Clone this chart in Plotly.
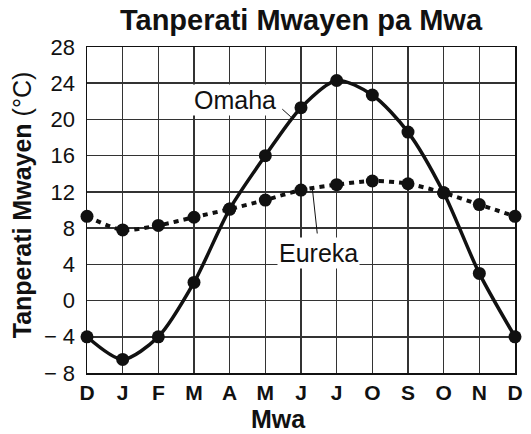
import plotly.graph_objects as go

# ---- data ----
months = ["D", "J", "F", "M", "A", "M", "J", "J", "O", "S", "O", "N", "D"]
omaha = [-4.0, -6.5, -4.0, 2.0, 10.1, 16.0, 21.3, 24.3, 22.7, 18.6, 11.9, 3.0, -4.0]
eureka = [9.3, 7.8, 8.3, 9.2, 10.1, 11.1, 12.2, 12.8, 13.2, 12.9, 11.9, 10.6, 9.3]
y_tick_values = [-8, -4, 0, 4, 8, 12, 16, 20, 24, 28]
y_tick_labels = ["\u2212 8", "\u2212 4", "0", "4", "8", "12", "16", "20", "24", "28"]

x_idx = list(range(len(months)))
FONT = "Liberation Sans, Arial, Helvetica, sans-serif"

fig = go.Figure()
fig.add_trace(go.Scatter(
    x=x_idx, y=eureka, mode="lines+markers", name="Eureka",
    line=dict(color="#111", width=4, dash="5px,5px", shape="spline", smoothing=0.8),
    marker=dict(color="#111", size=13), cliponaxis=False, showlegend=False))
fig.add_trace(go.Scatter(
    x=x_idx, y=omaha, mode="lines+markers", name="Omaha",
    line=dict(color="#111", width=3.5, shape="spline", smoothing=0.8),
    marker=dict(color="#111", size=13), cliponaxis=False, showlegend=False))

fig.update_layout(
    width=531, height=434,
    margin=dict(l=87, r=8, t=47, b=61),
    paper_bgcolor="white", plot_bgcolor="white",
    font=dict(family=FONT, color="#111"),
    title=dict(text="<b>Tanperati Mwayen pa Mwa</b>", font=dict(size=29, family=FONT, color="#111"),
               x=0.5, xref="paper", xanchor="center", y=1 - 20 / 434, yref="container", yanchor="middle"),
    xaxis=dict(range=[0, 12], tickmode="array", tickvals=x_idx, ticktext=["<b>%s</b>" % m for m in months],
               tickfont=dict(size=21, family=FONT, color="#111"),
               showgrid=True, gridcolor="#333", gridwidth=1.5,
               showline=True, linecolor="#111", linewidth=1.5, mirror=True, zeroline=False,
               ticks="", fixedrange=True),
    yaxis=dict(range=[-8, 28], tickmode="array", tickvals=y_tick_values, ticktext=y_tick_labels,
               tickfont=dict(size=22, family=FONT, color="#111"),
               showgrid=True, gridcolor="#333", gridwidth=1.5,
               showline=True, linecolor="#111", linewidth=1.5, mirror=True, zeroline=False,
               ticks="outside", ticklen=6, tickcolor="rgba(0,0,0,0)", fixedrange=True),
)

annotations = [
    dict(text="<b>Tanperati Mwayen</b> (°C)", xref="paper", yref="paper", x=-0.15, y=0.517,
         textangle=-90, showarrow=False, font=dict(size=25, family=FONT, color="#111"),
         xanchor="center", yanchor="middle"),
    dict(text="<b>Mwa</b>", xref="paper", yref="paper", x=0.4466, y=-0.141,
         showarrow=False, font=dict(size=25, family=FONT, color="#111"),
         xanchor="center", yanchor="middle"),
    dict(text="Omaha", x=4.156, y=22.15, xref="x", yref="y", showarrow=False,
         font=dict(size=25, family=FONT, color="#111"), bgcolor="white",
         xanchor="center", yanchor="middle"),
    dict(text="", x=5.714, y=20.29, xref="x", yref="y", showarrow=True, arrowhead=0,
         arrowwidth=1, arrowcolor="#111", ax=-10, ay=-9),
    dict(text="Eureka", x=6.485, y=5.21, xref="x", yref="y", showarrow=False,
         font=dict(size=25, family=FONT, color="#111"), bgcolor="white",
         xanchor="center", yanchor="middle"),
    dict(text="", x=6.32, y=12.32, xref="x", yref="y", showarrow=True, arrowhead=0,
         arrowwidth=1, arrowcolor="#111", ax=5, ay=46),
]
fig.update_layout(annotations=annotations)

fig.write_html("out.html",
               config={"displayModeBar": False, "staticPlot": True},
               post_script="document.body.style.margin='0';document.body.style.overflow='hidden';")
